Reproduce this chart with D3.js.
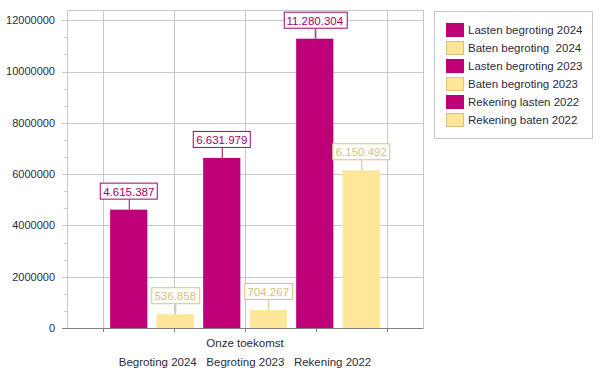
<!DOCTYPE html>
<html>
<head>
<meta charset="utf-8">
<script src="https://cdn.jsdelivr.net/npm/d3@7"></script>
<style>
  body { margin: 0; background: #fff; }
  svg { font-family: "Liberation Sans", Arial, sans-serif; }
</style>
</head>
<body>
<svg id="chart"></svg>
<script>
// Chart size
const width = 602, height = 374;

// Data
const groupLabel = "Onze toekomst";
const subLabel = "Begroting 2024   Begroting 2023   Rekening 2022";
const series = ["Lasten begroting 2024", "Baten begroting  2024", "Lasten begroting 2023",
                "Baten begroting 2023", "Rekening lasten 2022", "Rekening baten 2022"];
const values = [4615387, 536858, 6631979, 704267, 11280304, 6150492];
const kinds = ["lasten", "baten", "lasten", "baten", "lasten", "baten"];
const yTicks = [0, 2000000, 4000000, 6000000, 8000000, 10000000, 12000000];

const colors = {
    lasten: { fill: "#bd007a", stroke: "#a8006e", text: "#a8006e" },
    baten: { fill: "#ffe699", stroke: "#d8c27c", text: "#d9c07e" }
};

const plot = { left: 67, right: 423, top: 10, bottom: 328 };

const svg = d3.select("#chart")
    .attr("width", width)
    .attr("height", height);

// Scales
const y = d3.scaleLinear()
    .domain([0, 12400000])
    .range([plot.bottom, plot.top]);

const x = d3.scaleBand()
    .domain(series)
    .range([105.5, 384.5])
    .paddingInner(0.2)
    .paddingOuter(0.1);

// vertical gridlines split the plot into 5 equal parts
const xGrid = d3.scaleBand()
    .domain(d3.range(5))
    .range([plot.left, plot.right]);

// horizontal gridlines
svg.append("g")
    .selectAll("line")
    .data(yTicks.slice(1))
    .enter()
    .append("line")
    .attr("x1", plot.left - 5)
    .attr("x2", plot.right)
    .attr("y1", d => Math.round(y(d)) + 0.5)
    .attr("y2", d => Math.round(y(d)) + 0.5)
    .attr("stroke", "#c8c8c8");

// minor ticks on y
const minor = d3.range(0, 12000001, 2000000 / 3).filter(d => yTicks.every(t => Math.abs(t - d) > 1));
svg.append("g")
    .selectAll("line")
    .data(minor)
    .enter()
    .append("line")
    .attr("x1", plot.left - 3)
    .attr("x2", plot.left)
    .attr("y1", d => Math.round(y(d)) + 0.5)
    .attr("y2", d => Math.round(y(d)) + 0.5)
    .attr("stroke", "#c8c8c8");

// vertical gridlines
svg.append("g")
    .selectAll("line")
    .data(d3.range(5))
    .enter()
    .append("line")
    .attr("x1", d => Math.round(xGrid(d) + xGrid.bandwidth() / 2) + 0.5)
    .attr("x2", d => Math.round(xGrid(d) + xGrid.bandwidth() / 2) + 0.5)
    .attr("y1", plot.top)
    .attr("y2", plot.bottom + 4)
    .attr("stroke", "#c8c8c8");

// plot border (left, top, right)
svg.append("path")
    .attr("d", `M${plot.left + 0.5},${plot.bottom}V${plot.top + 0.5}H${plot.right + 0.5}V${plot.bottom}`)
    .attr("fill", "none")
    .attr("stroke", "#c8c8c8");

// y tick labels
svg.append("g")
    .selectAll("text")
    .data(yTicks)
    .enter()
    .append("text")
    .attr("x", 55)
    .attr("y", d => y(d))
    .attr("dy", "0.35em")
    .attr("text-anchor", "end")
    .attr("font-size", "11px")
    .attr("fill", "#2b2b40")
    .text(d => d);

// bars
svg.append("g")
    .selectAll("rect")
    .data(values)
    .enter()
    .append("rect")
    .attr("x", (d, i) => x(series[i]))
    .attr("y", d => y(d))
    .attr("width", x.bandwidth())
    .attr("height", d => plot.bottom - y(d))
    .attr("fill", (d, i) => colors[kinds[i]].fill);

// x axis line and ticks
svg.append("line")
    .attr("x1", plot.left - 5)
    .attr("x2", plot.right + 0.5)
    .attr("y1", plot.bottom + 0.5)
    .attr("y2", plot.bottom + 0.5)
    .attr("stroke", "#808080");

svg.append("g")
    .selectAll("line")
    .data(d3.range(5))
    .enter()
    .append("line")
    .attr("x1", d => Math.round(xGrid(d) + xGrid.bandwidth() / 2) + 0.5)
    .attr("x2", d => Math.round(xGrid(d) + xGrid.bandwidth() / 2) + 0.5)
    .attr("y1", plot.bottom)
    .attr("y2", plot.bottom + 4)
    .attr("stroke", "#808080");

// value labels
const fmt = d => d.toLocaleString("nl-NL");
const labels = svg.append("g")
    .selectAll("g")
    .data(values)
    .enter()
    .append("g")
    .attr("transform", (d, i) => `translate(${x(series[i]) + x.bandwidth() / 2}, ${y(d)})`);

labels.append("line")
    .attr("x1", 0.5).attr("x2", 0.5)
    .attr("y1", -10).attr("y2", 0)
    .attr("stroke", (d, i) => colors[kinds[i]].stroke);

labels.append("text")
    .attr("y", -18)
    .attr("dy", "0.35em")
    .attr("text-anchor", "middle")
    .attr("font-size", "11.5px")
    .attr("fill", (d, i) => colors[kinds[i]].text)
    .text(fmt);

labels.each(function(d, i) {
    const g = d3.select(this);
    const bb = g.select("text").node().getBBox();
    g.insert("rect", "text")
        .attr("x", Math.round(bb.x - 3) + 0.5)
        .attr("y", -26.5)
        .attr("width", Math.round(bb.width + 6))
        .attr("height", 16)
        .attr("fill", "#fff")
        .attr("stroke", colors[kinds[i]].stroke);
});

// x labels
const cx = (plot.left + plot.right) / 2;
svg.append("text")
    .attr("x", cx)
    .attr("y", 343)
    .attr("dy", "0.35em")
    .attr("text-anchor", "middle")
    .attr("font-size", "11.5px")
    .attr("fill", "#2b2b40")
    .text(groupLabel);

svg.append("text")
    .attr("x", cx)
    .attr("y", 362)
    .attr("dy", "0.35em")
    .attr("text-anchor", "middle")
    .attr("font-size", "11.5px")
    .attr("fill", "#2b2b40")
    .style("white-space", "pre")
    .text(subLabel);

// legend
const legend = svg.append("g").attr("transform", "translate(434, 11)");
legend.append("rect")
    .attr("x", 0.5).attr("y", 0.5)
    .attr("width", 158).attr("height", 127)
    .attr("fill", "#fff")
    .attr("stroke", "#c8c8c8");

const items = legend.selectAll("g.item")
    .data(series)
    .enter()
    .append("g")
    .attr("class", "item")
    .attr("transform", (d, i) => `translate(12, ${12 + i * 18})`);

items.append("rect")
    .attr("x", 0.5).attr("y", 0.5)
    .attr("width", 17).attr("height", 13)
    .attr("fill", (d, i) => colors[kinds[i]].fill)
    .attr("stroke", (d, i) => kinds[i] === "baten" ? "#d8c27c" : colors.lasten.fill);

items.append("text")
    .attr("x", 22)
    .attr("y", 7)
    .attr("dy", "0.35em")
    .attr("font-size", "11.5px")
    .attr("fill", "#2b2b40")
    .style("white-space", "pre")
    .text(d => d);
</script>
</body>
</html>
